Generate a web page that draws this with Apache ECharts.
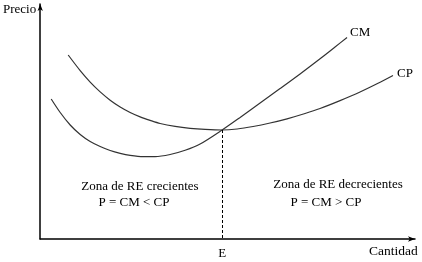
<!DOCTYPE html>
<html>
<head>
<meta charset="utf-8">
<script src="https://cdn.jsdelivr.net/npm/echarts@6/dist/echarts.min.js"></script>
<style>html,body{margin:0;padding:0;background:#fff}#c{width:422px;height:262px}</style>
</head>
<body>
<div id="c"></div>
<script>
// Curve points (x = quantity, y = price, arbitrary units)
var cmPoints = [[11,140],[20,126.5],[30,114],[40,104.5],[50,97.5],[60,92.5],[70,88.5],[80,85.7],[90,83.7],[103,82.4],[115,82.4],[130,84.5],[145,88.7],[160,95],[182,109],[200,121.6],[220,136],[240,150.4],[260,165],[280,180.2],[295,192],[307,201.5]];
var cpPoints = [[28,184],[40,168.4],[50,156.9],[60,147.1],[70,138.8],[80,132],[90,126.5],[100,122.1],[110,118.6],[120,115.5],[135,112.6],[150,110.7],[165,109.6],[182,109],[197,110],[213,112.5],[230,116],[247,120.2],[265,125.5],[280,130.5],[300,138.4],[320,147],[338,155.7],[353,163.5]];
var eqPoint = [182,109];
var seriesNames = ['CM','CP'];
var axisNames = ['Cantidad','Precio'];
var eqLabel = 'E';
var zoneLeft = ['Zona de RE crecientes','P = CM < CP'];
var zoneRight = ['Zona de RE decrecientes','P = CM > CP'];

var FONT = 'Liberation Serif';
var chart = echarts.init(document.getElementById('c'));
var txt = {fontFamily: FONT, fontSize: 13, color: '#000'};
function t(x, y, s){
  return {type:'text', x:x, y:y, style:{text:s, x:0, y:0, align:'center', verticalAlign:'middle', font:'13px "' + FONT + '"', fill:'#000'}};
}
chart.setOption({
  animation:false,
  grid:{left:40, right:7, top:4, bottom:23},
  xAxis:{type:'value', min:0, max:375, name:axisNames[0], nameLocation:'end', nameGap:-46,
    nameTextStyle:Object.assign({}, txt, {fontSize:13.5, align:'left', verticalAlign:'top', padding:[5,0,0,0]}),
    axisLine:{show:true, onZero:false, symbol:['none','arrow'], symbolSize:[4,7], lineStyle:{color:'#000', width:1.5}},
    axisTick:{show:false}, axisLabel:{show:false}, splitLine:{show:false}},
  yAxis:{type:'value', min:0, max:235, name:axisNames[1], nameLocation:'end', nameGap:-6,
    nameTextStyle:Object.assign({}, txt, {align:'right', verticalAlign:'middle', padding:[0,4,0,0]}),
    axisLine:{show:true, onZero:false, symbol:['none','arrow'], symbolSize:[4,7], lineStyle:{color:'#000', width:1.5}},
    axisTick:{show:false}, axisLabel:{show:false}, splitLine:{show:false}},
  series:[
    {name:seriesNames[0], type:'line', data:cmPoints, smooth:0.3, symbol:'none',
      lineStyle:{color:'#333', width:1.2},
      endLabel:{show:true, formatter:seriesNames[0], fontFamily:FONT, fontSize:13, color:'#000', distance:3, offset:[0,-5]}},
    {name:seriesNames[1], type:'line', data:cpPoints, smooth:0.3, symbol:'none',
      lineStyle:{color:'#333', width:1.2},
      endLabel:{show:true, formatter:seriesNames[1], fontFamily:FONT, fontSize:13, color:'#000', distance:4, offset:[0,-2]},
      markLine:{silent:true, symbol:'none',
        lineStyle:{color:'#000', type:[3,2], width:1},
        label:{show:true, position:'end', formatter:eqLabel, fontFamily:FONT, fontSize:13, color:'#000', distance:8},
        data:[[{coord:eqPoint},{coord:[eqPoint[0],0]}]]}}
  ],
  graphic:[
    t(140,187,zoneLeft[0]), t(134,203,zoneLeft[1]),
    t(338,185,zoneRight[0]), t(326,203,zoneRight[1])
  ]
});
</script>
</body>
</html>
